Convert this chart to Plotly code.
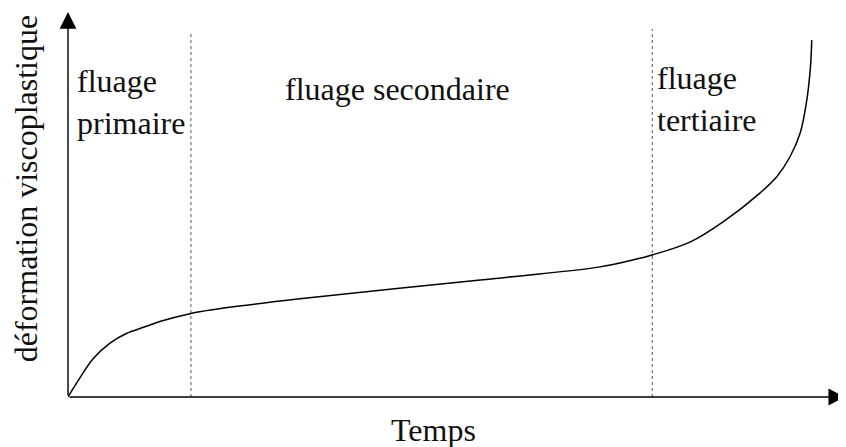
import plotly.graph_objects as go

# creep curve (time and strain in arbitrary units, 0-100)
temps = [0, 1.1, 3.25, 5.4, 7.5, 9.7, 11.8, 15.8, 18.3, 29.8, 53.0, 68.4,
         72.6, 75.1, 80.0, 84.2, 88.9, 91.1, 92.8, 94.1, 94.9, 95.4, 95.6]
deformation = [0, 3.6, 10.0, 14.0, 16.5, 18.1, 19.6, 21.7, 22.6, 25.5, 30.4, 33.8,
               35.6, 36.9, 40.3, 45.5, 52.9, 57.2, 62.4, 68.5, 76.3, 84.9, 92.7]

# boundaries between the creep stages
limites_t = [15.8, 75.1]
limites_haut = [94.5, 95.6]

etapes = ["fluage<br>primaire", "fluage secondaire", "fluage<br>tertiaire"]
etapes_x = [0.85, 42.4, 75.5]
etapes_y = [87.3, 85.2, 88.0]
etapes_ancre = ["left", "center", "left"]

police = "Liberation Serif"
taille = 32

fig = go.Figure()

for t, h in zip(limites_t, limites_haut):
    fig.add_trace(go.Scatter(x=[t, t], y=[0, h], mode="lines",
                             line=dict(color="#555555", width=1, dash="dot"),
                             hoverinfo="skip"))

fig.add_trace(go.Scatter(x=temps, y=deformation, mode="lines",
                         line=dict(color="black", width=1.5, shape="spline", smoothing=1.0),
                         hoverinfo="skip"))

annots = []
# axes with arrows
fleche = dict(xref="x", yref="y", axref="x", ayref="y", text="", showarrow=True,
              arrowhead=2, arrowsize=2.4, arrowwidth=1.4, arrowcolor="black")
annots.append(dict(fleche, x=99.9, y=0, ax=0, ay=0))
annots.append(dict(fleche, x=0, y=100, ax=0, ay=0))

for txt, x, y, anc in zip(etapes, etapes_x, etapes_y, etapes_ancre):
    annots.append(dict(x=x, y=y, xref="x", yref="y", text=txt, showarrow=False,
                       xanchor=anc, yanchor="top", align="left",
                       font=dict(family=police, size=taille, color="#111111")))

annots.append(dict(x=0.47, y=-0.035, xref="paper", yref="paper", text="Temps",
                   showarrow=False, xanchor="center", yanchor="top",
                   font=dict(family=police, size=taille, color="#111111")))
annots.append(dict(x=-0.053, y=0.5416, xref="paper", yref="paper",
                   text="déformation viscoplastique", textangle=-90,
                   showarrow=False, xanchor="center", yanchor="middle",
                   font=dict(family=police, size=taille, color="#111111")))

# the page body adds an 8px margin, so the figure is 8px smaller each way
fig.update_layout(
    width=838, height=439,
    margin=dict(l=60, r=0, t=4, b=50, autoexpand=False),
    paper_bgcolor="white", plot_bgcolor="white",
    showlegend=False,
    xaxis=dict(range=[0, 100], visible=False),
    yaxis=dict(range=[0, 100], visible=False),
    annotations=annots,
)

fig.write_html("out.html")
